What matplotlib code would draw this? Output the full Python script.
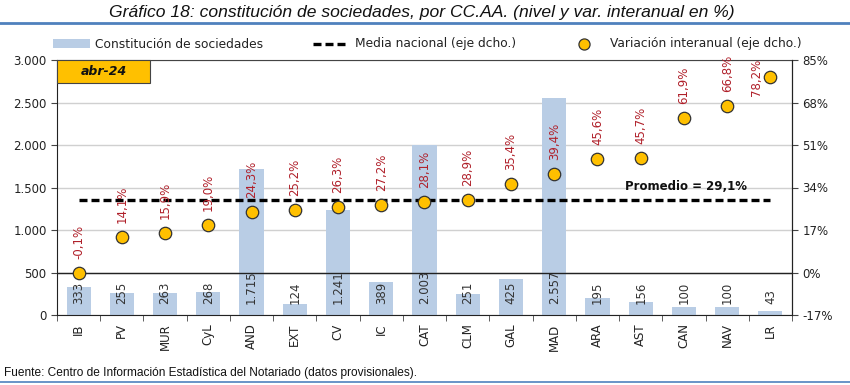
import matplotlib
matplotlib.use("Agg")
import matplotlib.pyplot as plt
from matplotlib.lines import Line2D
from matplotlib.patches import Rectangle
import numpy as np

categories = ["IB", "PV", "MUR", "CyL", "AND", "EXT", "CV", "IC", "CAT", "CLM",
              "GAL", "MAD", "ARA", "AST", "CAN", "NAV", "LR"]
sociedades = [333, 255, 263, 268, 1715, 124, 1241, 389, 2003, 251, 425, 2557, 195, 156, 100, 100, 43]
variacion = [-0.1, 14.1, 15.9, 19.0, 24.3, 25.2, 26.3, 27.2, 28.1, 28.9, 35.4, 39.4, 45.6, 45.7, 61.9, 66.8, 78.2]
media = 29.1
left_ticks = [0, 500, 1000, 1500, 2000, 2500, 3000]
right_ticks = [-17, 0, 17, 34, 51, 68, 85]

def fmt_thousands(v):
    return f"{v:,}".replace(",", ".")

def fmt_pct(v):
    return f"{v:.1f}%".replace(".", ",")

W, H = 850, 385
def fx(px): return px / W
def fy(py): return 1 - py / H

plt.rcParams['font.family'] = ['DejaVu Sans']
fig = plt.figure(figsize=(8.5, 3.85), dpi=100)
ax = fig.add_axes([fx(57), fy(315), (792-57)/W, (315-60)/H])
ax2 = ax.twinx()

x = np.arange(len(categories))
bar_color = "#B9CDE5"
gold = "#FFC000"
red = "#B0202A"
ax.bar(x, sociedades, width=0.56, color=bar_color, zorder=2)
ax.set_ylim(0, 3000)
ax.set_xlim(-0.5, len(categories)-0.5)
ax.set_yticks(left_ticks)
ax.set_yticklabels([fmt_thousands(v) for v in left_ticks], fontsize=8.5, color="#222222")
ax.yaxis.grid(True, color="#D0D0D0", linewidth=1, zorder=0)
ax.set_axisbelow(True)
ax.set_xticks(x)
ax.set_xticklabels(categories, rotation=90, fontsize=8.5, color="#222222")
ax.tick_params(axis='x', length=0, pad=6)
ax.set_xticks(np.arange(-0.5, len(categories), 1), minor=True)
ax.tick_params(axis='x', which='minor', length=4, direction='out', color="#444444")
ax.tick_params(axis='y', length=4, direction='out', color="#444444")
ax.spines["top"].set_color("#444444")
ax.spines["left"].set_color("#222222")
ax.spines["bottom"].set_color("#222222")

for xi, v in zip(x, sociedades):
    ax.annotate(fmt_thousands(v), (xi, 0), xytext=(0, 8), textcoords="offset points",
                rotation=90, ha="center", va="bottom", fontsize=8.5, color="#333333", zorder=3)

ax2.set_ylim(-17, 85)
ax2.set_yticks(right_ticks)
ax2.set_yticklabels([f"{v}%" for v in right_ticks], fontsize=8.5, color="#222222")
ax2.tick_params(axis='y', length=4, direction='out', color="#444444")
ax2.spines["right"].set_color("#222222")
for s in ["left", "top", "bottom"]:
    ax2.spines[s].set_visible(False)
ax2.axhline(0, color="#222222", linewidth=1, zorder=1)

ax2.plot([x[0], x[-1]], [media, media], color="black", linestyle=(0, (2.4, 1.2)), linewidth=2.4, zorder=3)
ax2.scatter(x, variacion, s=80, color=gold, edgecolor="#333333", linewidth=0.9, zorder=4)
ymax2 = ax2.get_ylim()[1]
for xi, v in zip(x, variacion):
    if v > 0.88 * ymax2:
        ax2.annotate(fmt_pct(v), (xi, v), xytext=(-5, 0), textcoords="offset points",
                     rotation=90, ha="right", va="center", fontsize=8.5, color=red, zorder=5)
    else:
        ax2.annotate(fmt_pct(v), (xi, v), xytext=(0, 10), textcoords="offset points",
                     rotation=90, ha="center", va="bottom", fontsize=8.5, color=red, zorder=5)
ax2.text(14.05, 34.6, "Promedio = " + fmt_pct(media), ha="center", va="center",
         fontsize=8.5, fontweight="bold", color="#111111", zorder=5)

# abr-24 box
box = Rectangle((0, 1 - 23/255), 93/735, 23/255, transform=ax.transAxes, facecolor=gold,
                edgecolor="#444444", linewidth=0.8, zorder=6, clip_on=False)
ax2.add_patch(box)
ax2.text(46.5/735, 1 - 11.5/255, "abr-24", transform=ax.transAxes, ha="center", va="center",
         fontsize=9, fontweight="bold", fontstyle="italic", color="#111111", zorder=7)

# manual legend
fig.add_artist(Rectangle((fx(53), fy(48)), (90-53)/W, 9/H, facecolor=bar_color, edgecolor="none"))
fig.text(fx(95), fy(44), "Constitución de sociedades", ha="left", va="center", fontsize=8.8, color="#222222")
fig.add_artist(Line2D([fx(313), fx(348)], [fy(44), fy(44)], color="black",
                      linestyle=(0, (2.4, 1.2)), linewidth=2.4))
fig.text(fx(355), fy(44), "Media nacional (eje dcho.)", ha="left", va="center", fontsize=8.8, color="#222222")
fig.add_artist(Line2D([fx(584)], [fy(44)], marker="o", markersize=8, markerfacecolor=gold,
                      markeredgecolor="#333333", markeredgewidth=0.9, linestyle="none"))
fig.text(fx(610), fy(44), "Variación interanual (eje dcho.)", ha="left", va="center", fontsize=8.8, color="#222222")

# title and frame lines
fig.text(fx(422), fy(12), "Gráfico 18: constitución de sociedades, por CC.AA. (nivel y var. interanual en %)",
         ha="center", va="center", fontsize=12.6, fontstyle="italic", family="Liberation Sans", color="#111111")
fig.add_artist(Line2D([0, 1], [fy(23), fy(23)], color="#4F81BD", linewidth=2))
fig.add_artist(Line2D([0, 1], [fy(382), fy(382)], color="#4F81BD", linewidth=1.2))
fig.text(fx(4), fy(373), "Fuente: Centro de Información Estadística del Notariado (datos provisionales).",
         ha="left", va="center", fontsize=8.6, family="Liberation Sans", color="#111111")

fig.savefig("out.png", dpi=100)
